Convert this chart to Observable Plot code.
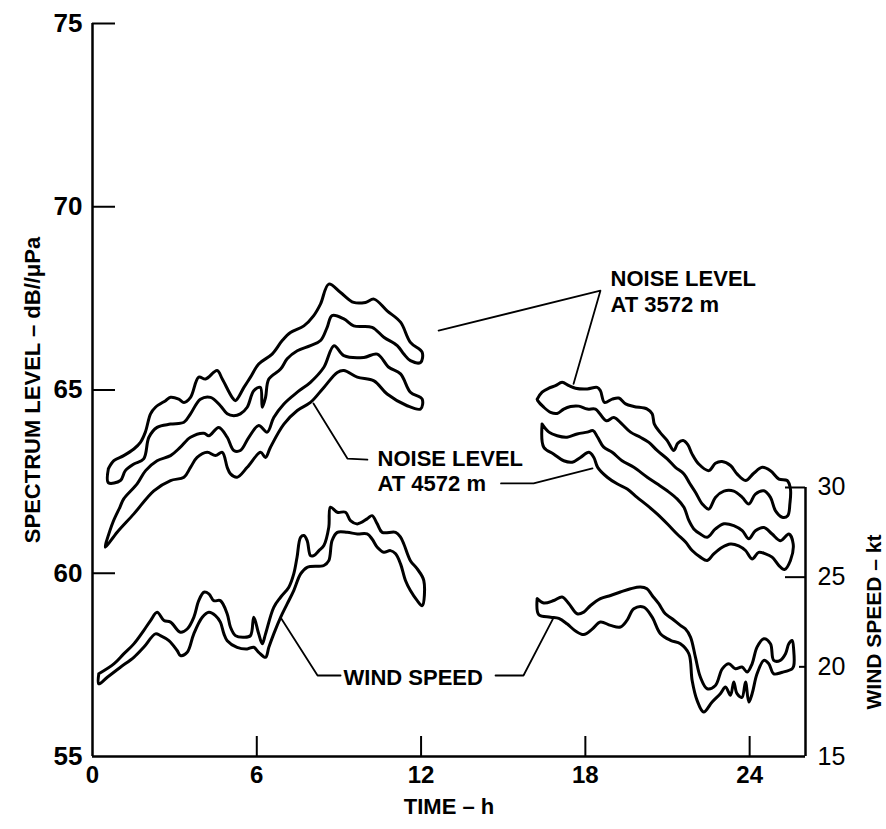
<!DOCTYPE html>
<html><head><meta charset="utf-8">
<script src="https://cdn.jsdelivr.net/npm/d3@7"></script>
<script src="https://cdn.jsdelivr.net/npm/@observablehq/plot@0.6"></script>
<style>
body{margin:0;background:#fff}
#chart svg{display:block}
g[aria-label="annot"] text{letter-spacing:1px}
g[aria-label="ytitle"] text{letter-spacing:2px}
g[aria-label="xtitle"] text{letter-spacing:1.5px}
g[aria-label="rtitle"] text{letter-spacing:1.5px}
</style></head><body><div id="chart"></div>
<script>
// ---- axis ticks ----
const yTicks = [55, 60, 65, 70, 75];            // spectrum level, dB//µPa
const xTicks = [0, 6, 12, 18, 24];              // time, h
const windTicks = [15, 20, 25, 30];             // wind speed, kt
const xMax = 26.04;                             // right axis position, h
const windKt = [15, 30], windDb = [55, 62.34];  // right-axis alignment to left axis

// ---- noise level at 3572 m, first record (hour, dB) ----
const n3572a_top = [[0.58,62.85],[0.78,63.07],[1.14,63.21],[1.51,63.39],[1.75,63.57],[1.93,63.85],[2.12,64.35],[2.30,64.53],[2.67,64.71],[2.85,64.80],[3.15,64.75],[3.34,64.66],[3.58,64.80],[3.88,65.35],[4.13,65.30],[4.55,65.53],[4.74,65.30],[5.10,64.80],[5.22,64.71],[5.53,65.07],[5.77,65.35],[6.07,65.71],[6.56,65.98],[6.93,66.35],[7.23,66.57],[7.72,66.75],[8.08,67.03],[8.33,67.35],[8.63,67.89],[9.06,67.66],[9.54,67.39],[9.97,67.39],[10.28,67.48],[10.76,67.16],[11.25,66.85],[11.61,66.30],[12.04,66.03]];
const n3572a_bot = [[0.58,62.47],[1.02,62.53],[1.20,62.80],[1.51,62.98],[1.87,63.12],[2.06,63.71],[2.36,63.98],[2.85,64.07],[3.34,64.12],[3.58,64.35],[3.94,64.75],[4.31,64.80],[4.67,64.57],[4.92,64.35],[5.16,64.30],[5.40,64.35],[5.65,64.53],[5.89,64.98],[6.13,65.07],[6.20,64.53],[6.32,64.80],[6.44,65.30],[6.87,65.57],[7.11,65.85],[7.48,66.07],[7.96,66.21],[8.33,66.35],[8.57,66.71],[8.75,67.03],[9.18,66.94],[9.54,66.75],[10.21,66.71],[10.64,66.44],[11.13,66.21],[11.37,65.98],[11.61,65.80],[11.98,65.75]];
// ---- noise level at 4572 m, first record ----
const n4572a_top = [[0.50,60.85],[0.75,61.40],[1.00,61.80],[1.14,62.03],[1.63,62.44],[1.94,62.80],[2.36,63.07],[2.85,63.21],[3.21,63.44],[3.58,63.71],[4.07,63.82],[4.25,63.75],[4.61,63.98],[4.92,63.71],[5.16,63.35],[5.40,63.35],[5.71,63.71],[6.07,64.03],[6.38,63.85],[6.62,64.25],[6.99,64.62],[7.48,64.94],[7.96,65.21],[8.45,65.62],[8.82,66.21],[9.18,65.94],[9.91,65.89],[10.40,65.98],[10.82,65.62],[11.25,65.44],[11.61,64.94],[12.04,64.75]];
const n4572a_bot = [[0.47,60.71],[0.90,61.12],[1.51,61.62],[2.24,62.25],[2.85,62.53],[3.34,62.62],[3.58,62.89],[3.82,63.16],[4.19,63.30],[4.49,63.21],[4.74,63.30],[4.92,62.89],[5.04,62.71],[5.28,62.62],[5.65,62.89],[6.14,63.30],[6.32,63.16],[6.50,63.44],[6.99,64.07],[7.48,64.44],[7.96,64.66],[8.45,65.07],[8.94,65.48],[9.18,65.53],[9.67,65.35],[10.28,65.25],[10.76,64.89],[11.49,64.57],[11.98,64.48]];
// ---- noise level at 3572 m, second record ----
const n3572b_top = [[16.24,64.75],[16.42,64.94],[16.67,65.05],[16.91,65.12],[17.15,65.21],[17.40,65.12],[17.64,65.05],[18.07,65.03],[18.43,65.07],[18.55,64.98],[18.70,64.66],[18.98,64.75],[19.22,64.78],[19.47,64.62],[19.77,64.55],[20.26,64.48],[20.44,64.35],[20.52,64.07],[20.72,63.85],[20.99,63.62],[21.23,63.35],[21.38,63.55],[21.57,63.62],[21.74,63.51],[21.90,63.25],[22.14,62.98],[22.51,62.80],[22.75,63.00],[22.99,63.05],[23.30,62.94],[23.54,62.71],[23.85,62.53],[24.15,62.73],[24.46,62.89],[24.76,62.80],[25.07,62.57],[25.37,62.53],[25.49,62.30],[25.47,61.90]];
const n3572b_bot = [[16.26,64.71],[16.48,64.53],[16.73,64.39],[16.97,64.36],[17.21,64.48],[17.46,64.55],[17.76,64.56],[18.07,64.48],[18.37,64.48],[18.53,64.35],[18.77,64.16],[19.04,64.25],[19.34,64.07],[19.65,63.85],[20.01,63.71],[20.32,63.57],[20.62,63.35],[20.99,63.12],[21.29,62.89],[21.60,62.71],[21.82,62.44],[22.02,62.21],[22.27,61.89],[22.51,61.75],[22.75,62.07],[23.06,62.24],[23.42,62.24],[23.73,62.07],[23.97,61.89],[24.21,62.16],[24.52,62.25],[24.76,62.07],[24.94,61.71],[25.19,61.53],[25.39,61.57]];
// ---- noise level at 4572 m, second record ----
const n4572b_top = [[16.42,64.07],[16.67,63.85],[16.97,63.75],[17.33,63.71],[17.70,63.80],[18.07,63.85],[18.28,63.89],[18.45,63.71],[18.67,63.44],[18.98,63.30],[19.34,63.07],[19.77,62.89],[20.26,62.62],[20.62,62.44],[20.99,62.25],[21.35,62.03],[21.60,61.80],[21.78,61.44],[21.96,61.21],[22.20,61.07],[22.45,60.98],[22.75,61.21],[23.06,61.35],[23.42,61.30],[23.73,61.16],[23.97,60.94],[24.21,61.16],[24.52,61.25],[24.82,61.07],[25.13,60.89],[25.43,61.07],[25.59,60.80],[25.49,60.35]];
const n4572b_bot = [[16.48,63.44],[16.85,63.25],[17.21,63.07],[17.52,63.03],[17.82,63.16],[18.13,63.30],[18.31,63.16],[18.45,62.89],[18.80,62.62],[19.16,62.44],[19.53,62.30],[19.89,62.07],[20.26,61.85],[20.62,61.62],[20.99,61.35],[21.35,61.07],[21.66,60.85],[21.90,60.62],[22.20,60.44],[22.45,60.35],[22.69,60.53],[23.00,60.71],[23.30,60.80],[23.60,60.75],[23.85,60.62],[24.09,60.39],[24.33,60.57],[24.58,60.53],[24.82,60.44],[25.07,60.21],[25.27,60.10]];
// ---- wind speed (hour, kt) ----
const windA_top = [[0.23,19.61],[0.78,20.16],[1.14,20.72],[1.51,21.28],[1.87,22.02],[2.12,22.58],[2.36,23.04],[2.61,22.58],[2.85,22.49],[3.21,21.93],[3.46,22.11],[3.70,22.76],[3.88,23.69],[4.07,24.16],[4.25,24.07],[4.43,23.69],[4.67,23.69],[4.92,22.95],[5.04,22.21],[5.22,21.74],[5.53,21.65],[5.77,21.74],[5.89,22.76],[6.07,21.84],[6.20,21.28],[6.32,21.84],[6.62,23.32],[6.87,23.88],[7.17,24.44],[7.35,25.18],[7.47,26.11],[7.60,27.22],[7.72,27.32],[7.84,27.04],[7.96,26.20],[8.08,26.20],[8.27,26.48],[8.45,26.76],[8.63,27.78],[8.69,28.90],[8.94,28.62],[9.24,28.62],[9.42,28.15],[9.67,27.97],[10.03,28.25],[10.21,28.43],[10.40,27.97],[10.58,27.50],[11.07,27.50],[11.25,27.23],[11.37,26.85],[11.61,25.92],[11.86,25.46],[12.10,24.81]];
const windA_bot = [[0.23,19.05],[0.54,19.42],[1.02,19.98],[1.51,20.53],[1.87,21.09],[2.30,21.84],[2.48,21.74],[2.79,21.46],[3.09,20.91],[3.21,20.63],[3.46,20.81],[3.70,21.84],[4.01,22.76],[4.25,23.04],[4.49,22.86],[4.67,22.49],[4.80,21.84],[4.92,21.46],[5.28,21.09],[5.65,21.00],[5.89,21.09],[6.07,20.81],[6.32,20.53],[6.44,21.09],[6.62,21.84],[6.87,22.76],[7.11,23.51],[7.35,24.25],[7.60,25.18],[7.84,25.55],[8.45,25.65],[8.63,25.92],[8.75,27.04],[8.94,27.50],[9.30,27.50],[9.67,27.41],[10.03,27.41],[10.21,27.13],[10.40,26.67],[10.64,26.39],[10.88,26.48],[11.07,26.30],[11.25,25.74],[11.43,24.81],[11.61,24.25],[11.86,23.69],[12.04,23.41]];
const windB_top = [[16.24,23.80],[16.48,23.56],[16.85,23.70],[17.15,23.89],[17.40,23.52],[17.70,22.96],[17.94,23.05],[18.19,23.42],[18.55,23.80],[18.92,23.98],[19.28,24.17],[19.65,24.35],[20.01,24.45],[20.25,24.35],[20.44,23.98],[20.68,23.52],[20.92,22.96],[21.17,22.68],[21.47,22.31],[21.65,22.12],[21.84,21.66],[22.02,20.54],[22.20,19.43],[22.45,18.78],[22.75,18.96],[23.00,19.89],[23.24,20.17],[23.48,19.89],[23.72,19.99],[23.91,19.71],[24.09,20.17],[24.27,21.10],[24.52,21.57],[24.76,21.29],[24.88,20.36],[25.12,20.36],[25.31,20.73],[25.43,21.29],[25.55,21.47],[25.61,20.92],[25.61,20.05]];
const windB_bot = [[16.30,22.90],[16.73,22.77],[17.03,22.70],[17.33,22.40],[17.64,22.00],[17.94,21.80],[18.25,22.10],[18.55,22.50],[18.92,22.31],[19.28,22.22],[19.52,22.59],[19.77,23.24],[20.13,23.33],[20.44,22.77],[20.74,21.85],[21.11,21.48],[21.47,21.29],[21.78,20.73],[21.90,19.24],[22.08,18.13],[22.32,17.48],[22.63,18.04],[22.93,18.50],[23.12,18.87],[23.30,18.41],[23.42,19.15],[23.54,18.50],[23.72,18.30],[23.85,19.15],[23.97,18.04],[24.09,18.50],[24.27,19.61],[24.52,20.36],[24.70,20.17],[24.88,19.61],[25.20,19.70],[25.55,19.89]];

// ---- annotations (hour, dB) ----
const labels = [
  {text:"NOISE LEVEL", h:18.92, v:68.04},
  {text:"AT 3572 m",   h:18.92, v:67.33},
  {text:"NOISE LEVEL", h:10.41, v:63.13},
  {text:"AT 4572 m",   h:10.41, v:62.45},
  {text:"WIND SPEED",  h:9.17,  v:57.13}
];
const leaders = {
  l3572:  [[12.64,66.62],[18.55,67.71],[17.57,65.17]],
  l4572a: [[8.07,64.63],[9.31,63.13],[10.04,63.10]],
  l4572b: [[14.92,62.45],[16.11,62.45],[18.26,62.86]],
  lwindA: [[6.87,58.79],[8.22,57.21],[9.06,57.21]],
  lwindB: [[14.72,57.21],[15.74,57.21],[16.84,58.79]]
};

// ---- build tables ----
const kt2db = d3.scaleLinear(windKt, windDb);
function band(name, top, bot, conv = v => v) {
  const pts = [...top, ...bot.slice().reverse(), top[0]];
  return pts.map(([h, v]) => ({band: name, h, v: conv(v)}));
}
const bands = [
  ...band("n3572a", n3572a_top, n3572a_bot),
  ...band("n4572a", n4572a_top, n4572a_bot),
  ...band("n3572b", n3572b_top, n3572b_bot),
  ...band("n4572b", n4572b_top, n4572b_bot),
  ...band("windA", windA_top, windA_bot, kt2db),
  ...band("windB", windB_top, windB_bot, kt2db)
];
const leaderRows = Object.entries(leaders).flatMap(([k, pts]) => pts.map(([h, v]) => ({k, h, v})));

const W = 886, H = 829, mL = 92, mR = 81, mT = 23, mB = 73;
const pxPerH = (W - mL - mR) / xMax;
const pxPerDb = (H - mT - mB) / (yTicks[yTicks.length-1] - yTicks[0]);
const font = "'Liberation Sans', Arial, sans-serif";

const chart = Plot.plot({
  width: W, height: H,
  marginLeft: mL, marginRight: mR, marginTop: mT, marginBottom: mB,
  x: {domain: [0, xMax], axis: null},
  y: {domain: [yTicks[0], yTicks[yTicks.length-1]], axis: null},
  style: {fontFamily: font, background: "white", color: "black", overflow: "visible"},
  marks: [
    Plot.line(bands, {x: "h", y: "v", z: "band", curve: "catmull-rom", stroke: "black", strokeWidth: 3, strokeLinejoin: "round"}),
    Plot.line(leaderRows, {x: "h", y: "v", z: "k", stroke: "black", strokeWidth: 1.8}),
    // axis lines
    Plot.ruleX([0], {y1: yTicks[0], y2: yTicks[yTicks.length-1], strokeWidth: 2.5}),
    Plot.ruleY([yTicks[0]], {x1: 0, x2: xMax, strokeWidth: 2.5}),
    Plot.ruleX([xMax], {y1: kt2db(windKt[0]), y2: kt2db(windKt[1]), strokeWidth: 2.5}),
    // ticks
    Plot.ruleY(yTicks.slice(1), {x1: 0, x2: 23 / pxPerH, strokeWidth: 2}),
    Plot.ruleX(xTicks.slice(1), {y1: yTicks[0], y2: yTicks[0] + 20 / pxPerDb, strokeWidth: 2}),
    Plot.ruleY(windTicks.slice(1), {y: d => kt2db(d), x1: d => xMax - (d === 20 ? 6 : 20) / pxPerH, x2: xMax, strokeWidth: 2}),
    // tick labels
    Plot.text(yTicks, {y: d => d, text: d => String(d), frameAnchor: "left", textAnchor: "end", dx: -10, fontSize: 26, fontWeight: "bold"}),
    Plot.text(xTicks, {x: d => d, text: d => String(d), frameAnchor: "bottom", textAnchor: "middle", lineAnchor: "top", dy: 9, fontSize: 24, fontWeight: "bold"}),
    Plot.text(windTicks, {y: d => kt2db(d), text: d => String(d), frameAnchor: "right", textAnchor: "start", dx: 12, fontSize: 25}),
    // axis titles
    Plot.text(["SPECTRUM LEVEL – dB//μPa"], {text: d => d, y: (yTicks[0] + yTicks[yTicks.length-1]) / 2, frameAnchor: "left", textAnchor: "middle", dx: -60, rotate: -90, fontSize: 22, fontWeight: "bold", ariaLabel: "ytitle"}),
    Plot.text(["WIND SPEED – kt"], {text: d => d, y: kt2db((windKt[0] + windKt[1]) / 2), frameAnchor: "right", textAnchor: "middle", dx: 69, rotate: -90, fontSize: 21, fontWeight: "bold", ariaLabel: "rtitle"}),
    Plot.text(["TIME – h"], {text: d => d, x: xMax / 2, frameAnchor: "bottom", textAnchor: "middle", dy: 57, fontSize: 22, fontWeight: "bold", ariaLabel: "xtitle"}),
    // annotations
    Plot.text(labels, {x: "h", y: "v", text: "text", textAnchor: "start", fontSize: 22, fontWeight: "bold", ariaLabel: "annot"})
  ]
});
document.getElementById("chart").appendChild(chart);
</script>
</body></html>
